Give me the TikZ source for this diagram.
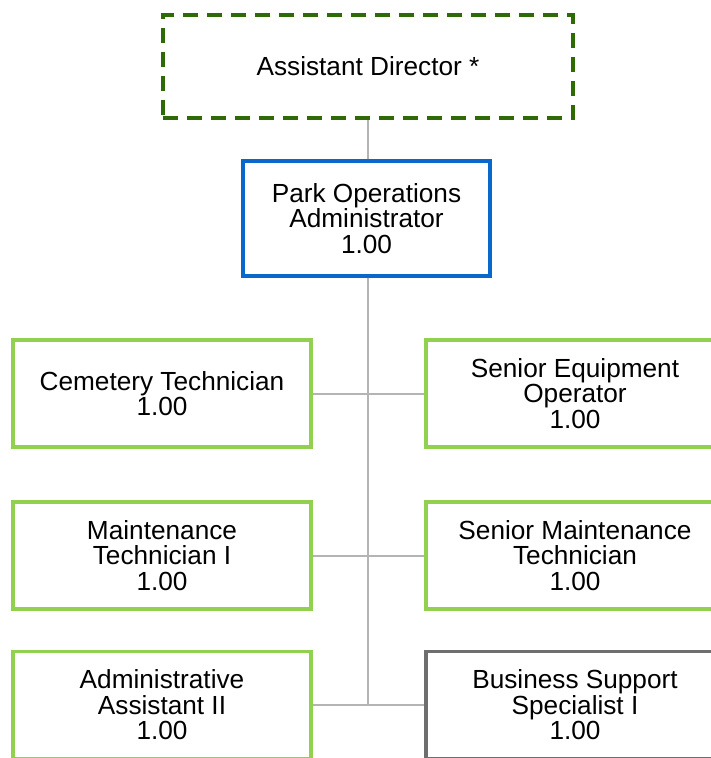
\documentclass[tikz,border=0pt]{standalone}
\usepackage{fontspec}
\setmainfont{Liberation Sans}
\definecolor{dkgreen}{HTML}{2E6A05}
\definecolor{lgreen}{HTML}{92D050}
\definecolor{bblue}{HTML}{0A68CC}
\definecolor{bgray}{HTML}{6E6E6E}
\definecolor{lgray}{HTML}{B4B4B4}
\tikzset{
  box/.style={draw, fill=white, line width=3.2pt, rectangle, inner sep=0pt, align=center,
    font=\fontsize{26.2pt}{25.5pt}\selectfont, text=black},
  sidebox/.style={box, draw=lgreen, minimum width=298pt, minimum height=107pt},
  conn/.style={draw=lgray, line width=2pt}
}
\begin{document}
\begin{tikzpicture}[x=1pt,y=-1pt]
\useasboundingbox (0,0) rectangle (711,758);
\clip (0,0) rectangle (711,758);
\node[box, draw=dkgreen, dash pattern=on 15pt off 9pt, minimum width=410pt, minimum height=103pt] (ad) at (368,66.5) {Assistant Director *};
\node[box, draw=bblue, minimum width=247pt, minimum height=115pt] (poa) at (366.5,218.5) {Park Operations\\Administrator\\1.00};
\node[sidebox] (l1) at (162,393.5) {Cemetery Technician\\1.00};
\node[sidebox] (r1) at (575,393.5) {Senior Equipment\\Operator\\1.00};
\node[sidebox] (l2) at (162,555.5) {Maintenance\\Technician I\\1.00};
\node[sidebox] (r2) at (575,555.5) {Senior Maintenance\\Technician\\1.00};
\node[sidebox] (l3) at (162,705) {Administrative\\Assistant II\\1.00};
\node[sidebox, draw=bgray] (r3) at (575,705) {Business Support\\Specialist I\\1.00};
\coordinate (j3) at (368,705);
\draw[conn] (368,0 |- ad.south) -- (368,0 |- poa.north);
\draw[conn] (368,0 |- poa.south) -- (j3);
\draw[conn] (l1.east) -- (r1.west);
\draw[conn] (l2.east) -- (r2.west);
\draw[conn] (l3.east) -- (r3.west);
\end{tikzpicture}
\end{document}
